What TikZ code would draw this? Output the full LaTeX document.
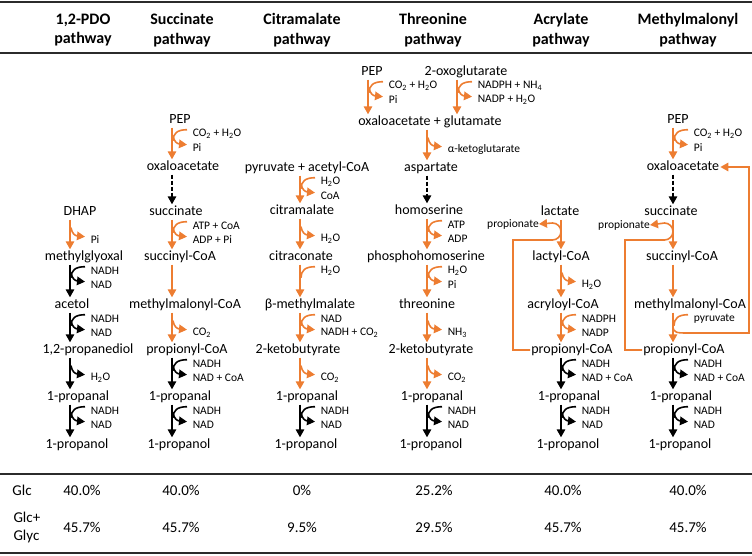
\documentclass[tikz,border=0pt]{standalone}
\usepackage{fontspec}
\setmainfont{Carlito}
\usepackage{tikz}
\usetikzlibrary{arrows.meta}
\definecolor{orc}{HTML}{ED7D31}
\definecolor{rulec}{HTML}{2B2B2B}
\tikzset{
  >={Triangle[length=8pt,width=8.5pt]},
  met/.style={font=\fontsize{14}{16}\selectfont,inner sep=1pt,text height=10pt,text depth=3pt},
  cof/.style={font=\fontsize{11.5}{13}\selectfont,anchor=west,inner sep=0pt,text=black},
  hd/.style={font=\fontsize{16}{19.5}\selectfont\bfseries,align=center},
  tb/.style={font=\fontsize{15}{18}\selectfont,align=left},
  oa/.style={->,draw=orc,line width=1.6pt},
  ba/.style={->,draw=black,line width=1.6pt},
  da/.style={ba,dash pattern=on 4pt off 2pt},
  ol/.style={color=orc,line width=1.6pt},
  bl/.style={color=black,line width=1.6pt},
  rl/.style={draw=rulec,line width=1.8pt},
  pics/cin/.style={code={\draw[-] (15,2) .. controls (5,2) and (1,6) .. (1,13);
                         \node[cof] (-t) at (20,6) {#1};}},
  pics/cout/.style={code={\draw[->] (1,8) .. controls (2,14) and (5,16) .. (15,17);
                          \node[cof] (-t) at (20,20) {#1};}},
}
\begin{document}
\begin{tikzpicture}[x=1pt,y=-1pt]
  \useasboundingbox (0,0) rectangle (752,556);
  % rules
  \draw[rl] (0,2) -- (752,2);
  \draw[rl,line width=1.4pt] (0,53) -- (752,53);
  \draw[rl] (0,474) -- (752,474);
  \draw[rl] (0,553) -- (752,553);
  % headers
  \node[hd] (h1) at (83,30) {1,2-PDO\\pathway};
  \node[hd] (h2) at (182,30) {Succinate\\pathway};
  \node[hd] (h3) at (302,30) {Citramalate\\pathway};
  \node[hd] (h4) at (433,30) {Threonine\\pathway};
  \node[hd] (h5) at (561,30) {Acrylate\\pathway};
  \node[hd] (h6) at (688,30) {Methylmalonyl\\pathway};
  % arrow columns
  \coordinate (xa) at (70,0);  \coordinate (xb) at (172,0);
  \coordinate (xc) at (300,0); \coordinate (xd) at (427,0);
  \coordinate (xd1) at (368,0); \coordinate (xd2) at (457,0);
  \coordinate (xe) at (561,0); \coordinate (xf) at (673,0);
  % 1,2-PDO
  \foreach \n/\x/\y/\t in {a1/80/212/DHAP, a2/84/257/methylglyoxal, a3/72/305/acetol,
      a4/88/350/{1,2-propanediol}, a5/78/397/1-propanal, a6/77/445/1-propanol}
    \node[met] (\n) at (\x,\y) {\t};
  \foreach \f/\t/\k in {a1/a2/oa, a2/a3/ba, a3/a4/ba, a4/a5/ba, a5/a6/ba}
    \draw[\k] (\f.south -| xa) -- (\t.north -| xa);
  \pic[ol] (pa1) at (a1.south -| xa) {cout=Pi};
  \pic[bl] (qa2) at (a2.south -| xa) {cin=NADH};
  \pic[bl] (pa2) at (a2.south -| xa) {cout=NAD};
  \pic[bl] (qa3) at (a3.south -| xa) {cin=NADH};
  \pic[bl] (pa3) at (a3.south -| xa) {cout=NAD};
  \pic[bl] (pa4) at (a4.south -| xa) {cout=H\textsubscript{2}O};
  \pic[bl] (qa5) at (a5.south -| xa) {cin=NADH};
  \pic[bl] (pa5) at (a5.south -| xa) {cout=NAD};
  % succinate
  \foreach \n/\x/\y/\t in {b1/180/120/PEP, b2/183/167/oxaloacetate, b3/176/212/succinate,
      b4/180/257/succinyl-CoA, b5/185/305/methylmalonyl-CoA, b6/187/350/propionyl-CoA,
      b7/180/397/1-propanal, b8/179/445/1-propanol}
    \node[met] (\n) at (\x,\y) {\t};
  \foreach \f/\t/\k in {b1/b2/oa, b2/b3/da, b3/b4/oa, b4/b5/oa, b5/b6/oa, b6/b7/ba, b7/b8/ba}
    \draw[\k] (\f.south -| xb) -- (\t.north -| xb);
  \pic[ol] (qb1) at (b1.south -| xb) {cin=CO\textsubscript{2} + H\textsubscript{2}O};
  \pic[ol] (pb1) at (b1.south -| xb) {cout=Pi};
  \pic[ol] (qb3) at (b3.south -| xb) {cin=ATP + CoA};
  \pic[ol] (pb3) at (b3.south -| xb) {cout=ADP + Pi};
  \pic[ol] (pb5) at (b5.south -| xb) {cout=CO\textsubscript{2}};
  \pic[bl] (qb6) at (b6.south -| xb) {cin=NADH};
  \pic[bl] (pb6) at (b6.south -| xb) {cout=NAD + CoA};
  \pic[bl] (qb7) at (b7.south -| xb) {cin=NADH};
  \pic[bl] (pb7) at (b7.south -| xb) {cout=NAD};
  % citramalate
  \foreach \n/\x/\y/\t in {c1/307/168/pyruvate + acetyl-CoA, c2/302/211/citramalate,
      c3/301/257/citraconate, c4/310/305/β-methylmalate, c5/298/350/2-ketobutyrate,
      c6/307/397/1-propanal, c7/306/445/1-propanol}
    \node[met] (\n) at (\x,\y) {\t};
  \foreach \f/\t/\k in {c1/c2/oa, c2/c3/oa, c3/c4/oa, c4/c5/oa, c5/c6/oa, c6/c7/ba}
    \draw[\k] (\f.south -| xc) -- (\t.north -| xc);
  \pic[ol] (qc1) at (c1.south -| xc) {cin=H\textsubscript{2}O};
  \pic[ol] (pc1) at (c1.south -| xc) {cout=CoA};
  \pic[ol] (pc2) at (c2.south -| xc) {cout=H\textsubscript{2}O};
  \pic[ol] (qc3) at (c3.south -| xc) {cin=H\textsubscript{2}O};
  \pic[ol] (qc4) at (c4.south -| xc) {cin=NAD};
  \pic[ol] (pc4) at (c4.south -| xc) {cout=NADH + CO\textsubscript{2}};
  \pic[ol] (pc5) at (c5.south -| xc) {cout=CO\textsubscript{2}};
  \pic[bl] (qc6) at (c6.south -| xc) {cin=NADH};
  \pic[bl] (pc6) at (c6.south -| xc) {cout=NAD};
  % threonine
  \foreach \n/\x/\y/\t in {d1/372/72/PEP, d2/466/72/2-oxoglutarate,
      d3/430/122/oxaloacetate + glutamate, d4/431/168/aspartate, d5/429/211/homoserine,
      d6/426/257/phosphohomoserine, d7/427/305/threonine, d8/431/350/2-ketobutyrate,
      d9/432/397/1-propanal, d10/431/445/1-propanol}
    \node[met] (\n) at (\x,\y) {\t};
  \draw[oa] (d1.south -| xd1) -- (d3.north -| xd1);
  \draw[oa] (d2.south -| xd2) -- (d3.north -| xd2);
  \foreach \f/\t/\k in {d3/d4/oa, d4/d5/da, d5/d6/oa, d6/d7/oa, d7/d8/oa, d8/d9/oa, d9/d10/ba}
    \draw[\k] (\f.south -| xd) -- (\t.north -| xd);
  \pic[ol] (qd1) at (d1.south -| xd1) {cin=CO\textsubscript{2} + H\textsubscript{2}O};
  \pic[ol] (pd1) at (d1.south -| xd1) {cout=Pi};
  \pic[ol] (qd2) at (d2.south -| xd2) {cin=NADPH + NH\textsubscript{4}};
  \pic[ol] (pd2) at (d2.south -| xd2) {cout=NADP + H\textsubscript{2}O};
  \pic[ol] (pd3) at (d3.south -| xd) {cout=α-ketoglutarate};
  \pic[ol] (qd5) at (d5.south -| xd) {cin=ATP};
  \pic[ol] (pd5) at (d5.south -| xd) {cout=ADP};
  \pic[ol] (qd6) at (d6.south -| xd) {cin=H\textsubscript{2}O};
  \pic[ol] (pd6) at (d6.south -| xd) {cout=Pi};
  \pic[ol] (pd7) at (d7.south -| xd) {cout=NH\textsubscript{3}};
  \pic[ol] (pd8) at (d8.south -| xd) {cout=CO\textsubscript{2}};
  \pic[bl] (qd9) at (d9.south -| xd) {cin=NADH};
  \pic[bl] (pd9) at (d9.south -| xd) {cout=NAD};
  % acrylate
  \foreach \n/\x/\y/\t in {e1/560/212/lactate, e2/561/257/lactyl-CoA, e3/563/305/acryloyl-CoA,
      e4/572/350/propionyl-CoA, e5/569/397/1-propanal, e6/568/445/1-propanol}
    \node[met] (\n) at (\x,\y) {\t};
  \foreach \f/\t/\k in {e1/e2/oa, e2/e3/oa, e3/e4/oa, e4/e5/ba, e5/e6/ba}
    \draw[\k] (\f.south -| xe) -- (\t.north -| xe);
  \node[cof,anchor=center] (ep) at (513,224) {propionate};
  \coordinate (ke) at (513,240);
  \draw[ol,->] (e4.west) -| (ke) -- ++(39.5,0) arc[start angle=90,end angle=-90,radius=8.5] -- (ep.east);
  \pic[ol] (pe2) at (e2.south -| xe) {cout=H\textsubscript{2}O};
  \pic[ol] (qe3) at (e3.south -| xe) {cin=NADPH};
  \pic[ol] (pe3) at (e3.south -| xe) {cout=NADP};
  \pic[bl] (qe4) at (e4.south -| xe) {cin=NADH};
  \pic[bl] (pe4) at (e4.south -| xe) {cout=NAD + CoA};
  \pic[bl] (qe5) at (e5.south -| xe) {cin=NADH};
  \pic[bl] (pe5) at (e5.south -| xe) {cout=NAD};
  % methylmalonyl
  \foreach \n/\x/\y/\t in {f1/678/120/PEP, f2/683/167/oxaloacetate, f3/671/212/succinate,
      f4/682/257/succinyl-CoA, f5/690/305/methylmalonyl-CoA, f6/684/350/propionyl-CoA,
      f7/681/397/1-propanal, f8/680/445/1-propanol}
    \node[met] (\n) at (\x,\y) {\t};
  \foreach \f/\t/\k in {f1/f2/oa, f2/f3/da, f3/f4/oa, f4/f5/oa, f5/f6/oa, f6/f7/ba, f7/f8/ba}
    \draw[\k] (\f.south -| xf) -- (\t.north -| xf);
  \node[cof,anchor=center] (fp) at (624,225) {propionate};
  \coordinate (kf) at (625,240);
  \draw[ol,->] (f6.west) -| (kf) -- ++(39.5,0) arc[start angle=90,end angle=-90,radius=8.5] -- (fp.east);
  \coordinate (jf) at (673,326); \coordinate (lf) at (749,167);
  \draw[ol,->] (jf) .. controls (673,333) and (677,333) .. (688,333) -| (lf) -- (f2.east);
  \pic[ol] (qf1) at (f1.south -| xf) {cin=CO\textsubscript{2} + H\textsubscript{2}O};
  \pic[ol] (pf1) at (f1.south -| xf) {cout=Pi};
  \pic[ol] (qf5) at (f5.south -| xf) {cin=pyruvate};
  \pic[bl] (qf6) at (f6.south -| xf) {cin=NADH};
  \pic[bl] (pf6) at (f6.south -| xf) {cout=NAD + CoA};
  \pic[bl] (qf7) at (f7.south -| xf) {cin=NADH};
  \pic[bl] (pf7) at (f7.south -| xf) {cout=NAD};
  % yields
  \node[tb] (g1) at (22,490) {Glc};
  \node[tb,anchor=west] (g2) at (10,527) {Glc+\\Glyc};
  \foreach \x/\v/\w [count=\i] in {82/40.0/45.7, 181/40.0/45.7, 302/0/9.5,
      434/25.2/29.5, 563/40.0/45.7, 688/40.0/45.7} {
    \node[tb] (v\i) at (\x,490) {\v\%};
    \node[tb] (w\i) at (\x,527) {\w\%};
  }
\end{tikzpicture}
\end{document}
